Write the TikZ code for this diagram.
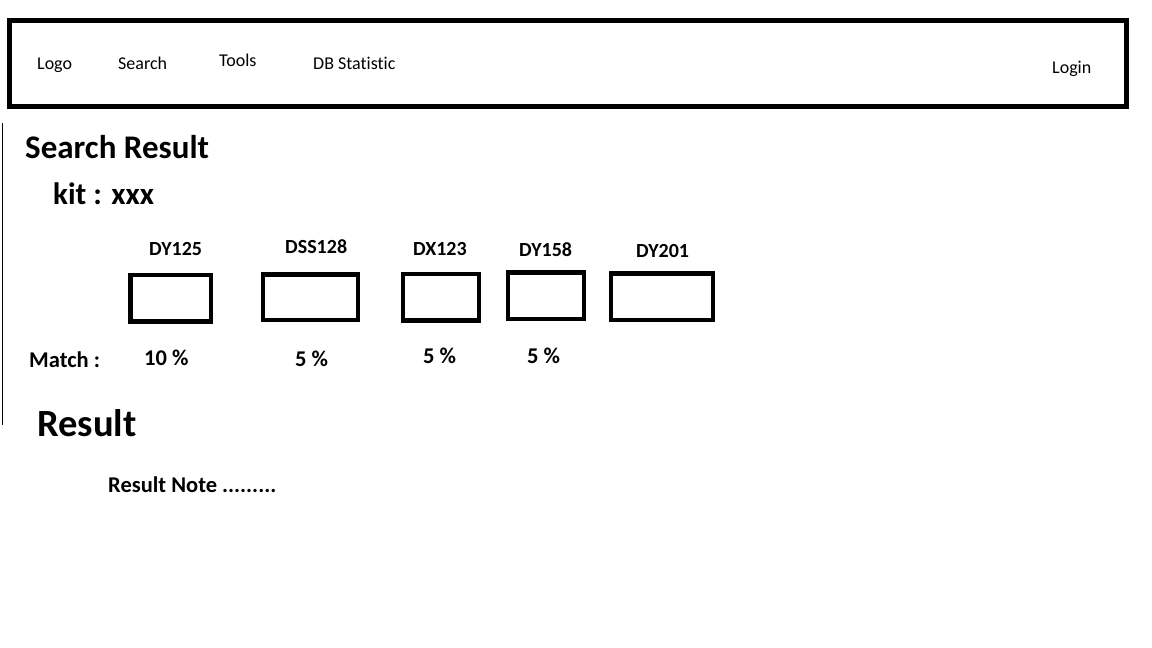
\documentclass[tikz,border=0pt]{standalone}
\usepackage{fontspec}
\setmainfont{Carlito}[Ligatures={NoCommon}]
\usetikzlibrary{positioning}

\begin{document}
\begin{tikzpicture}[x=1pt, y=-1pt,
		menu/.style={anchor=base west, inner sep=0pt, font=\fontsize{18}{20}\selectfont},
		heading/.style={anchor=base west, inner sep=0pt, font=\bfseries\fontsize{33}{36}\selectfont},
		kitlabel/.style={anchor=base west, inner sep=0pt, font=\bfseries\fontsize{20}{22}\selectfont},
		match/.style={anchor=base west, inner sep=0pt, font=\bfseries\fontsize{22.5}{24}\selectfont},
		kitbox/.style={draw, line width=4.5pt, inner sep=0pt, minimum height=46.5pt}]
				\useasboundingbox (0,0) rectangle (1152,648);
				
				% navigation bar
				\node[draw, line width=5pt, inner sep=0pt, minimum width=1117pt, minimum height=85.5pt] (navbar) at (568,63.25) {};
				\node[menu] (logo) at (37,69) {Logo};
				\node[menu] (search) at (118,69) {Search};
				\node[menu] (tools) at (219,66) {Tools};
				\node[menu] (dbstat) at (313,69) {DB Statistic};
				\node[menu] (login) at (1052,73) {Login};
				
				\draw (2,123) -- (2,425);
				
				\node[heading] (title) at (25,158) {Search Result};
				\node[heading, font=\bfseries\fontsize{31}{34}\selectfont] (kit) at (53,204) {kit : xxx};
				
				% kits
				\node[kitlabel] (dyA) at (149,255) {DY125};
				\node[kitlabel] (dss) at (285,253) {DSS128};
				\node[kitlabel] (dx) at (413,255) {DX123};
				\node[kitlabel] (dyB) at (519,256) {DY158};
				\node[kitlabel] (dyC) at (636,257) {DY201};
				
				\node[kitbox, minimum width=80.5pt] (boxA) at (170.75,298.25) {};
				\node[kitbox, minimum width=95pt, minimum height=45.5pt] (boxB) at (310.5,297.25) {};
				\node[kitbox, minimum width=76pt] (boxC) at (441,297) {};
				\node[kitbox, minimum width=76pt] (boxD) at (546,295.5) {};
				\node[kitbox, minimum width=102pt] (boxE) at (662,296.5) {};
				
				\node[match] (matchlbl) at (29,367) {Match :};
				\node[match] (pctA) at (144,365) {10 \%};
				\node[match] (pctB) at (295,366) {5 \%};
				\node[match] (pctC) at (423,363) {5 \%};
				\node[match] (pctD) at (527,363) {5 \%};
				
				% result
				\node[heading, font=\bfseries\fontsize{38.5}{42}\selectfont] (result) at (37,436) {Result};
				\node[match] (note) at (108,492) {Result Note .........};
			\end{tikzpicture}
\end{document}
